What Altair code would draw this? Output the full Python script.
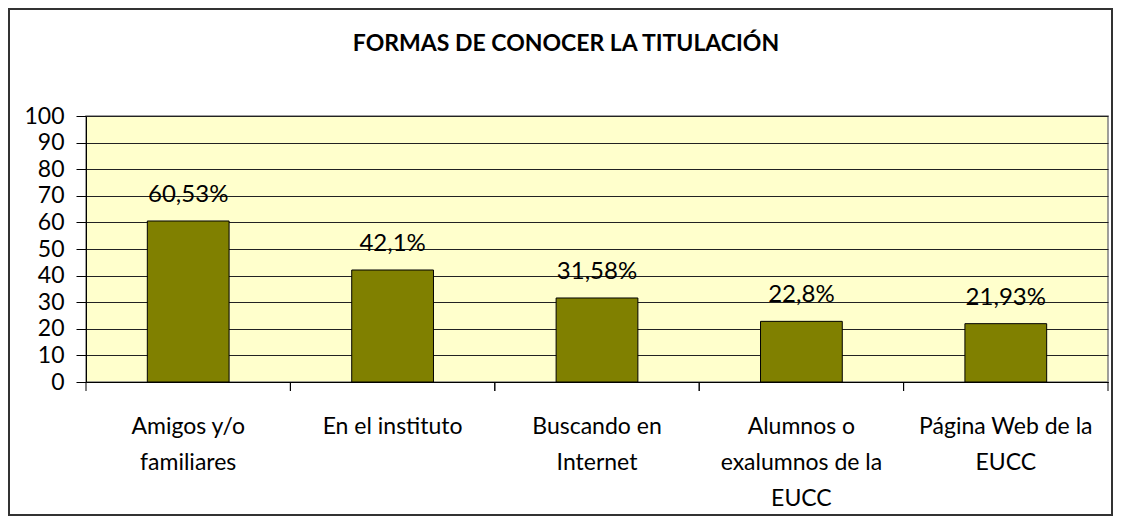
import altair as alt
import pandas as pd

categories = ["Amigos y/o|familiares", "En el instituto", "Buscando en|Internet",
              "Alumnos o|exalumnos de la|EUCC", "Página Web de la|EUCC"]
values = [60.53, 42.1, 31.58, 22.8, 21.93]
value_labels = ["60,53%", "42,1%", "31,58%", "22,8%", "21,93%"]
y_ticks = list(range(0, 101, 10))
title_text = "FORMAS DE CONOCER LA TITULACIÓN"

df = pd.DataFrame({"cat": categories, "val": values, "lab": value_labels})

W, H = 1022, 266
FONT = "Lato"

x_scale = alt.Scale(domain=categories, paddingInner=0, paddingOuter=0)
y_scale = alt.Scale(domain=[0, 100], nice=False)

x_axis = alt.Axis(labelExpr="split(datum.label, '|')", ticks=False, tickSize=0,
                  labelAngle=0, labelPadding=33, labelLineHeight=36, labelFontSize=23,
                  labelFont=FONT, labelColor="#000", domainColor="#000", labelLimit=300,
                  grid=False)
y_axis = alt.Axis(values=y_ticks, tickSize=10, tickColor="#000", domainColor="#000",
                  grid=True, gridColor="#222", gridWidth=1, labelFont=FONT,
                  labelFontSize=23, labelPadding=12, labelColor="#000")

base = alt.Chart(df)

bars = base.mark_bar(color="#808000", stroke="#000000", strokeWidth=1,
                     width=alt.RelativeBandSize(0.4)).encode(
    x=alt.X("cat:N", scale=x_scale, sort=categories, title=None, axis=x_axis),
    y=alt.Y("val:Q", scale=y_scale, title=None, axis=y_axis),
)

texts = base.mark_text(fontSize=24, font=FONT, dy=-19, baseline="alphabetic",
                       color="#000").encode(
    x=alt.X("cat:N", scale=x_scale, sort=categories, title=None, axis=x_axis),
    y=alt.Y("val:Q", scale=y_scale, title=None, axis=y_axis),
    text="lab:N",
)

tick0 = base.mark_rule(color="#000", strokeWidth=1).encode(
    x=alt.X("cat:N", scale=x_scale, sort=categories, title=None, axis=x_axis, bandPosition=0),
    y=alt.value(H), y2=alt.value(H + 9),
)
tick1 = base.mark_rule(color="#000", strokeWidth=1).encode(
    x=alt.X("cat:N", scale=x_scale, sort=categories, title=None, axis=x_axis, bandPosition=1),
    y=alt.value(H), y2=alt.value(H + 9),
)

frame = alt.Chart(alt.Data(values=[{}])).mark_rect(
    fillOpacity=0, stroke="#333", strokeWidth=2).encode(
    x=alt.value(-77), x2=alt.value(W + 4), y=alt.value(-107), y2=alt.value(H + 133),
)

chart = alt.layer(frame, bars, texts, tick0, tick1).properties(
    width=W, height=H,
    padding={"left": 78, "top": 108, "right": 5, "bottom": 134},
    autosize=alt.AutoSizeParams(type="none"),
    title=alt.TitleParams(text=title_text, font=FONT, fontSize=23, fontWeight="bold",
                          anchor="middle", frame="group", dx=-31, offset=-66,
                          baseline="alphabetic", color="#000"),
).configure_view(fill="#FFFFCC", stroke="#808080", strokeWidth=1.5)

chart.save("out.html", embed_options={"renderer": "svg", "actions": False})
